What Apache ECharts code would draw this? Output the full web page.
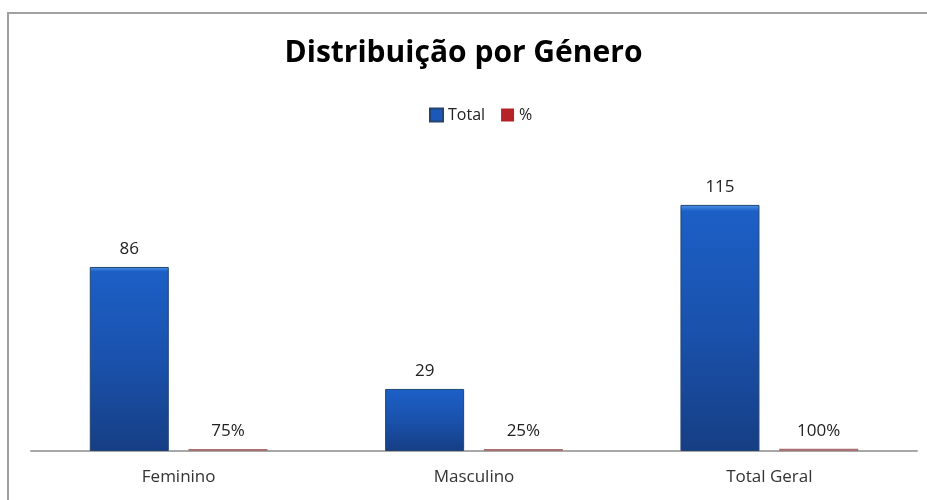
<!DOCTYPE html>
<html>
<head>
<meta charset="utf-8">
<script src="https://cdn.jsdelivr.net/npm/echarts@6/dist/echarts.min.js"></script>
<style>
  html, body { margin: 0; padding: 0; background: #fff; }
  #root { width: 927px; height: 500px; }
</style>
</head>
<body>
<div id="root"></div>
<script>
// data
var categories = ['Feminino', 'Masculino', 'Total Geral'];
var totals = [86, 29, 115];
var percents = [0.75, 0.25, 1];

var font = '"Open Sans", sans-serif';

var blueFill = new echarts.graphic.LinearGradient(0, 0, 0, 1, [
  { offset: 0, color: '#4f95ea' },
  { offset: 0.025, color: '#1c5fc6' },
  { offset: 0.5, color: '#1a52ad' },
  { offset: 1, color: '#163e84' }
]);

var chart = echarts.init(document.getElementById('root'));

var option = {
  backgroundColor: '#fff',
  animation: false,
  title: {
    text: 'Distribuição por Género',
    left: 'center',
    top: 33,
    textStyle: { fontFamily: font, fontWeight: 'bold', fontSize: 30, color: '#000' }
  },
  legend: {
    top: 102,
    left: 424,
    itemWidth: 13,
    itemHeight: 13,
    itemGap: 16,
    icon: 'rect',
    textStyle: { fontFamily: font, fontSize: 16, color: '#222' },
    data: [
      { name: 'Total', itemStyle: { color: '#1c58b8' } },
      { name: '%', itemStyle: { color: '#b52328' } }
    ]
  },
  grid: { left: 31, right: 10, top: 151.4, bottom: 49 },
  xAxis: {
    type: 'category',
    data: categories,
    axisLine: { lineStyle: { color: '#a8a8a8', width: 2 } },
    axisTick: { show: false },
    axisLabel: { fontFamily: font, fontSize: 17, color: '#333', margin: 18 }
  },
  yAxis: {
    type: 'value',
    min: 0,
    max: 140,
    show: false
  },
  series: [
    {
      name: 'Total',
      type: 'bar',
      data: totals,
      barWidth: 79,
      barGap: '25%',
      itemStyle: { color: blueFill, borderColor: '#234470', borderWidth: 1 },
      label: {
        show: true,
        position: 'top',
        distance: 9,
        fontFamily: font,
        fontSize: 17,
        color: '#222'
      }
    },
    {
      name: '%',
      type: 'bar',
      data: percents,
      barWidth: 79,
      barMinHeight: 2,
      itemStyle: { color: '#a87070' },
      label: {
        show: true,
        position: 'top',
        distance: 9,
        fontFamily: font,
        fontSize: 17,
        color: '#222',
        formatter: function (p) { return Math.round(p.value * 100) + '%'; }
      }
    }
  ],
  graphic: [
    {
      type: 'rect',
      shape: { x: 8, y: 13, width: 940, height: 500 },
      style: { fill: null, stroke: '#a0a0a0', lineWidth: 2 },
      silent: true
    }
  ]
};

chart.setOption(option);
</script>
</body>
</html>
